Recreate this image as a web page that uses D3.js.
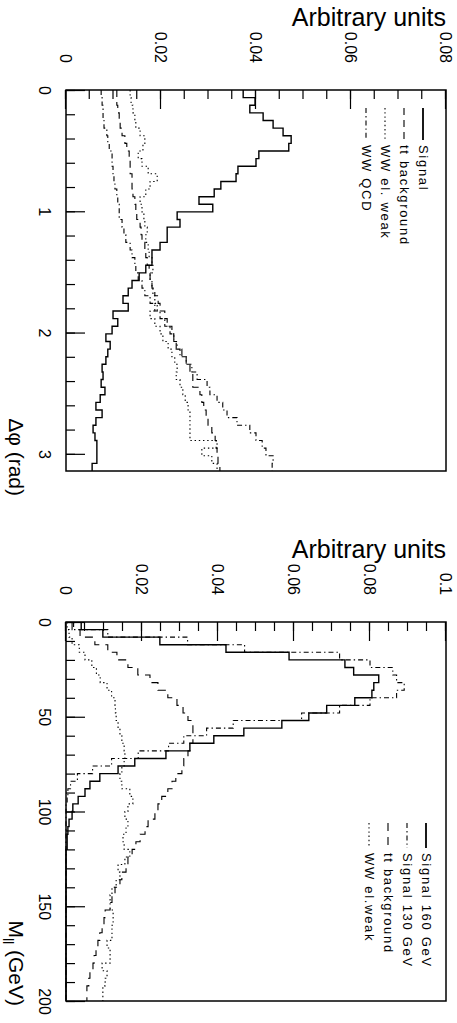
<!DOCTYPE html>
<html>
<head>
<meta charset="utf-8">
<script src="https://d3js.org/d3.v7.min.js"></script>
<style>
    body { margin: 0; background: #fff; }
    svg { display: block; }
    text { font-family: "Liberation Sans", Arial, Helvetica, sans-serif; fill: #000; }
</style>
</head>
<body>
<div id="chart"></div>
<script>
// ---- delta phi panel : 50 bins over [0, pi] ----
const dphiSignal = [0.0373, 0.0398, 0.0387, 0.0415, 0.0436, 0.0457, 0.0474, 0.0469, 0.0406, 0.0400,
    0.0362, 0.0358, 0.0326, 0.0312, 0.0280, 0.0309, 0.0234, 0.0240, 0.0213, 0.0213,
    0.0198, 0.0181, 0.0181, 0.0168, 0.0154, 0.0139, 0.0131, 0.0120, 0.0131, 0.0099,
    0.0109, 0.0097, 0.0084, 0.0093, 0.0088, 0.0084, 0.0076, 0.0078, 0.0074, 0.0082,
    0.0072, 0.0063, 0.0076, 0.0063, 0.0057, 0.0061, 0.0065, 0.0065, 0.0065, 0.0055];
const dphiTT = [0.0107, 0.0107, 0.0109, 0.0112, 0.0114, 0.0118, 0.0124, 0.0128, 0.0133, 0.0135,
    0.0135, 0.0139, 0.0139, 0.0141, 0.0145, 0.0147, 0.0149, 0.0156, 0.0158, 0.0160,
    0.0166, 0.0168, 0.0171, 0.0175, 0.0177, 0.0181, 0.0187, 0.0194, 0.0198, 0.0208,
    0.0213, 0.0223, 0.0227, 0.0232, 0.0244, 0.0253, 0.0261, 0.0267, 0.0267, 0.0282,
    0.0286, 0.0290, 0.0295, 0.0299, 0.0307, 0.0314, 0.0316, 0.0318, 0.0320, 0.0324];
const dphiWWew = [0.0135, 0.0137, 0.0141, 0.0145, 0.0147, 0.0156, 0.0166, 0.0162, 0.0152, 0.0160,
    0.0173, 0.0192, 0.0177, 0.0168, 0.0156, 0.0160, 0.0164, 0.0166, 0.0171, 0.0168,
    0.0173, 0.0175, 0.0181, 0.0183, 0.0177, 0.0181, 0.0183, 0.0187, 0.0192, 0.0177,
    0.0187, 0.0198, 0.0204, 0.0215, 0.0223, 0.0229, 0.0234, 0.0232, 0.0240, 0.0246,
    0.0251, 0.0257, 0.0261, 0.0261, 0.0261, 0.0261, 0.0318, 0.0286, 0.0307, 0.0318];
const dphiWWqcd = [0.0074, 0.0076, 0.0078, 0.0078, 0.0080, 0.0086, 0.0088, 0.0091, 0.0097, 0.0097,
    0.0099, 0.0101, 0.0103, 0.0107, 0.0109, 0.0112, 0.0112, 0.0118, 0.0122, 0.0126,
    0.0135, 0.0139, 0.0145, 0.0147, 0.0152, 0.0160, 0.0166, 0.0177, 0.0187, 0.0198,
    0.0208, 0.0219, 0.0227, 0.0234, 0.0240, 0.0253, 0.0265, 0.0276, 0.0297, 0.0303,
    0.0318, 0.0330, 0.0339, 0.0360, 0.0387, 0.0400, 0.0413, 0.0421, 0.0436, 0.0434];
const dphiTicks = [0, 1, 2, 3];
const dphiUnitTicks = [0, 0.02, 0.04, 0.06, 0.08];
const dphiLegend = ["Signal", "tt background", "WW el. weak", "WW QCD"];

// ---- M_ll panel : 50 bins of 4 GeV over [0, 200] ----
const mllSignal160 = [0.0040, 0.0097, 0.0247, 0.0421, 0.0587, 0.0734, 0.0757, 0.0823, 0.0810, 0.0805,
    0.0760, 0.0686, 0.0639, 0.0568, 0.0468, 0.0389, 0.0326, 0.0263, 0.0181, 0.0137,
    0.0089, 0.0063, 0.0050, 0.0032, 0.0018, 0.0016, 0.0008, 0.0005, 0.0003, 0.0003,
    0, 0, 0, 0, 0, 0, 0, 0, 0, 0,
    0, 0, 0, 0, 0, 0, 0, 0, 0, 0];
const mllSignal130 = [0.0020, 0.0110, 0.0320, 0.0470, 0.0720, 0.0800, 0.0860, 0.0870, 0.0890, 0.0870,
    0.0800, 0.0720, 0.0620, 0.0440, 0.0370, 0.0310, 0.0270, 0.0190, 0.0120, 0.0070,
    0.0030, 0.0012, 0.0005, 0.0003, 0, 0, 0, 0, 0, 0,
    0, 0, 0, 0, 0, 0, 0, 0, 0, 0,
    0, 0, 0, 0, 0, 0, 0, 0, 0, 0];
const mllTT = [0.0016, 0.0037, 0.0076, 0.0110, 0.0134, 0.0163, 0.0189, 0.0221, 0.0242, 0.0268,
    0.0292, 0.0308, 0.0321, 0.0334, 0.0334, 0.0334, 0.0326, 0.0321, 0.0310, 0.0305,
    0.0289, 0.0279, 0.0268, 0.0252, 0.0242, 0.0234, 0.0216, 0.0208, 0.0195, 0.0184,
    0.0174, 0.0163, 0.0158, 0.0147, 0.0142, 0.0129, 0.0121, 0.0116, 0.0103, 0.0100,
    0.0095, 0.0089, 0.0084, 0.0079, 0.0074, 0.0071, 0.0063, 0.0060, 0.0055, 0.0055];
const mllWWew = [0.0003, 0.0008, 0.0016, 0.0035, 0.0050, 0.0068, 0.0080, 0.0090, 0.0108, 0.0120,
    0.0129, 0.0130, 0.0132, 0.0137, 0.0142, 0.0147, 0.0153, 0.0155, 0.0153, 0.0147,
    0.0142, 0.0147, 0.0168, 0.0176, 0.0163, 0.0155, 0.0163, 0.0158, 0.0150, 0.0153,
    0.0168, 0.0155, 0.0137, 0.0142, 0.0132, 0.0121, 0.0116, 0.0116, 0.0124, 0.0124,
    0.0121, 0.0121, 0.0108, 0.0116, 0.0116, 0.0095, 0.0108, 0.0103, 0.0097, 0.0097];
const mllTicks = [0, 50, 100, 150, 200];
const mllUnitTicks = [0, 0.02, 0.04, 0.06, 0.08, 0.1];
const mllLegend = ["Signal 160 GeV", "Signal 130 GeV", "tt background", "WW el.weak"];

// line styles
const SOLID = null, DASHED = "7,5", DOTTED = "1.4,2.8", DASHDOT = "5,3,1.4,3";

class RotatedHist {
    // the whole plot is drawn as a normal histogram and turned a quarter turn clockwise
    constructor(svg, cfg) {
        Object.assign(this, cfg);
        this.svg = svg;
        this.initVis();
    }

    initVis() {
        let vis = this;
        vis.W = vis.bottom - vis.top;    // x axis length (runs down the page)
        vis.H = vis.right - vis.left;    // y axis length (runs across the page)

        vis.g = vis.svg.append("g")
            .attr("transform", `translate(${vis.right},${vis.top}) rotate(90)`);

        vis.x = d3.scaleLinear().domain(vis.xDomain).range([0, vis.W]);
        vis.y = d3.scaleLinear().domain(vis.yDomain).range([vis.H, 0]);

        // minor + major ticks, pointing into the frame
        vis.g.append("g")
            .attr("transform", `translate(0,${vis.H})`)
            .call(d3.axisBottom(vis.x).tickValues(vis.xMinor).tickSize(-9).tickFormat(""))
            .call(g => g.select(".domain").remove());
        vis.g.append("g")
            .attr("class", "x-axis")
            .attr("transform", `translate(0,${vis.H})`)
            .call(d3.axisBottom(vis.x).tickValues(vis.xTicks).tickSizeInner(-19).tickSizeOuter(0)
                .tickPadding(16).tickFormat(d3.format("d")))
            .call(g => g.select(".domain").remove());

        vis.g.append("g")
            .call(d3.axisLeft(vis.y).tickValues(d3.ticks(vis.yDomain[0], vis.yDomain[1], vis.yDomain[1] / 0.005))
                .tickSize(-9).tickFormat(""))
            .call(g => g.select(".domain").remove());
        vis.g.append("g")
            .attr("class", "y-axis")
            .call(d3.axisLeft(vis.y).tickValues(vis.yTicks).tickSizeInner(-19).tickSizeOuter(0)
                .tickPadding(27).tickFormat(d3.format("~g")))
            .call(g => g.select(".domain").remove());

        vis.g.selectAll(".tick line").attr("stroke-width", 1.2);
        vis.g.selectAll(".x-axis, .y-axis").attr("font-size", 16).attr("font-family", null);

        // histograms
        vis.line = d3.line()
            .x(d => vis.x(d[0]))
            .y(d => vis.y(d[1]))
            .curve(d3.curveStepAfter);

        vis.series.forEach(s => {
            let n = s.values.length;
            let step = (vis.xDomain[1] - vis.xDomain[0]) / n;
            let pts = s.values.map((v, i) => [vis.xDomain[0] + i * step, v]);
            pts.push([vis.xDomain[1], s.values[n - 1]]);
            vis.g.append("path")
                .datum(pts)
                .attr("fill", "none")
                .attr("stroke", "#000")
                .attr("stroke-width", s.dash ? 1.1 : 1.4)
                .attr("stroke-dasharray", s.dash)
                .attr("d", vis.line);
        });

        // frame
        vis.g.append("rect")
            .attr("width", vis.W)
            .attr("height", vis.H)
            .attr("fill", "none")
            .attr("stroke", "#000")
            .attr("stroke-width", 1.5);

        // legend
        let leg = vis.g.append("g").attr("class", "legend");
        vis.series.forEach((s, i) => {
            let yy = vis.legendTop + i * 19;
            leg.append("line")
                .attr("x1", vis.legendX).attr("x2", vis.legendX + vis.legendLen)
                .attr("y1", yy - 4).attr("y2", yy - 4)
                .attr("stroke", "#000")
                .attr("stroke-width", s.dash ? 1.1 : 1.8)
                .attr("stroke-dasharray", s.dash);
            leg.append("text")
                .attr("x", vis.legendX + vis.legendLen + 5)
                .attr("y", yy)
                .attr("font-size", 13)
                .attr("letter-spacing", 1.7)
                .text(s.name);
        });

        // x title (rotated with the plot)
        let xt = vis.g.append("text")
            .attr("x", vis.xTitleEnd)
            .attr("y", vis.H + 57)
            .attr("text-anchor", "end")
            .attr("font-size", 21);
        vis.xTitle(xt);

        // y title stays horizontal on the page
        vis.svg.append("text")
            .attr("x", vis.right)
            .attr("y", vis.top - 64)
            .attr("text-anchor", "end")
            .attr("font-size", 25)
            .text("Arbitrary units");
    }
}

const svg = d3.select("#chart").append("svg")
    .attr("width", 457)
    .attr("height", 1023);

new RotatedHist(svg, {
    left: 66, right: 446, top: 90, bottom: 471,
    xDomain: [0, Math.PI], yDomain: [0, 0.08],
    xTicks: dphiTicks, xMinor: d3.range(0, Math.PI, 0.2), yTicks: dphiUnitTicks,
    series: [
        {name: dphiLegend[0], values: dphiSignal, dash: SOLID},
        {name: dphiLegend[1], values: dphiTT, dash: DASHED},
        {name: dphiLegend[2], values: dphiWWew, dash: DOTTED},
        {name: dphiLegend[3], values: dphiWWqcd, dash: DASHDOT}
    ],
    legendX: 18, legendLen: 32, legendTop: 27,
    xTitleEnd: 406,
    xTitle: t => t.text("Δφ (rad)")
});

new RotatedHist(svg, {
    left: 66, right: 446, top: 622, bottom: 1001,
    xDomain: [0, 200], yDomain: [0, 0.1],
    xTicks: mllTicks, xMinor: d3.range(0, 201, 10), yTicks: mllUnitTicks,
    series: [
        {name: mllLegend[0], values: mllSignal160, dash: SOLID},
        {name: mllLegend[1], values: mllSignal130, dash: DASHDOT},
        {name: mllLegend[2], values: mllTT, dash: "8,6"},
        {name: mllLegend[3], values: mllWWew, dash: DOTTED}
    ],
    legendX: 201, legendLen: 25, legendTop: 24,
    xTitleEnd: 384,
    xTitle: t => {
        t.append("tspan").text("M");
        t.append("tspan").attr("dy", 6).attr("font-size", 14).text("ll");
        t.append("tspan").attr("dy", -6).text(" (GeV)");
    }
});
</script>
</body>
</html>
